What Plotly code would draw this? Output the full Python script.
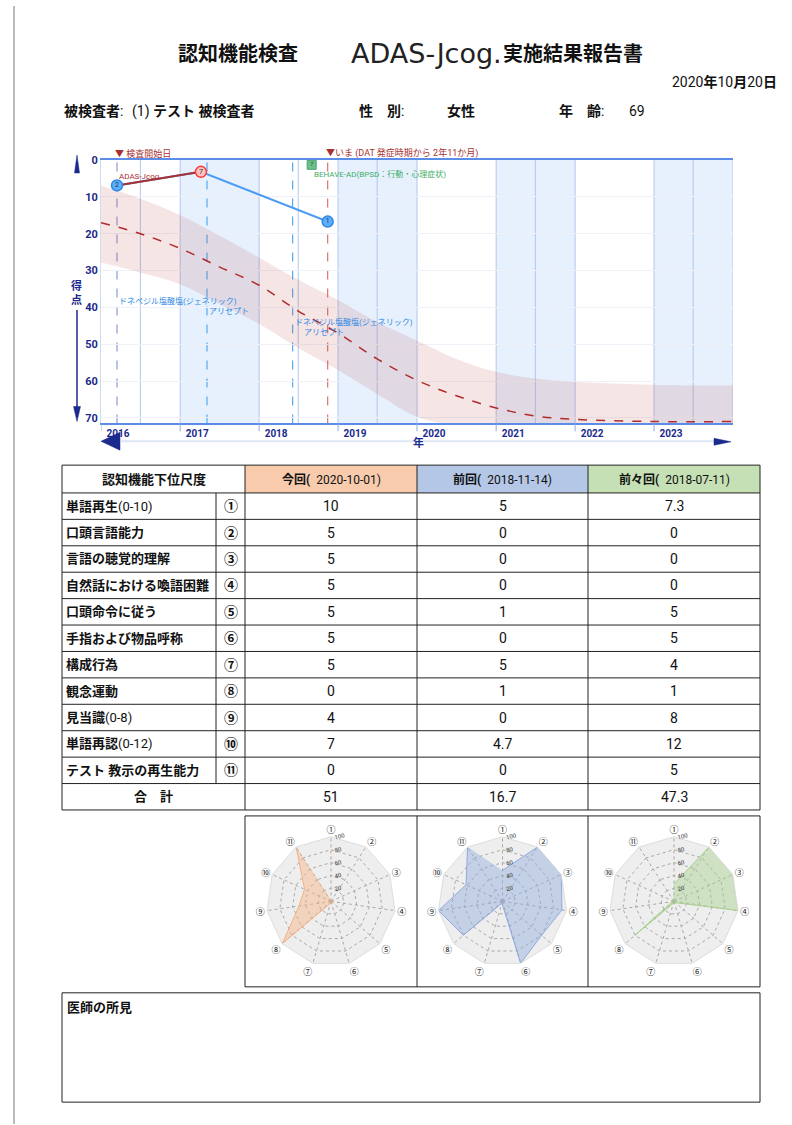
import plotly.graph_objects as go

W, H = 792, 1125


def px(x):
    return x / W


def py(y):
    return 1 - y / H


FONT = "Roboto, Noto Sans CJK JP"
NAVY = "#1b2a8c"

# ---------------- chart data ----------------
year_ticks = ["2016", "2017", "2018", "2019", "2020", "2021", "2022", "2023"]
year_lines = ["2017", "2018", "2019", "2020", "2021", "2022", "2023", "2024"]
shaded_years = ["2017", "2019", "2021", "2023"]
midyear_lines = ["2016-07-01", "2018-07-01", "2019-07-01", "2021-07-01", "2023-07-01"]
y_ticks = [0, 10, 20, 30, 40, 50, 60, 70]

trend_dates = ["2016-01-01", "2016-07-01", "2017-01-01", "2017-07-01", "2018-01-01",
               "2018-07-01", "2019-01-01", "2019-07-01", "2020-01-01", "2020-07-01",
               "2021-01-01", "2021-07-01", "2022-01-01", "2023-01-01", "2024-01-01"]
trend_mid = [17, 20, 24, 29, 34, 41, 47, 54, 59.8, 64, 67.3, 69.5, 70.4, 71, 71]
band_upper = [7, 10.5, 15, 20.5, 26.5, 32.5, 38, 44, 49, 54, 57.5, 59.3, 60.2, 61, 61.2]
band_lower = [27.8, 30.5, 33.7, 39, 44.5, 51, 57, 63.5, 69.7, 72, 72, 72, 72, 72, 72]

adas_dates = ["2016-03-15", "2017-04-07", "2018-11-14"]
adas_scores = [6.9, 3.2, 16.7]
adas_marks = ["2", "7", "1"]

behave_dates = ["2018-09-01"]
behave_scores = [1.3]
behave_marks = ["7"]

event_dates = ["2016-03-15", "2017-05-05", "2018-06-05", "2018-11-14"]
event_colors = ["#8d9bd3", "#55a8f0", "#55a8f0", "#e07070"]

drug_texts = ["ドネペジル塩酸塩(ジェネリック)", "アリセプト", "ドネペジル塩酸塩(ジェネリック)", "アリセプト"]
drug_dates = ["2016-03-15", "2017-05-05", "2018-06-05", "2018-07-20"]
drug_scores = [38.3, 41, 44, 46.7]

# ---------------- table data ----------------
scale_names = ["単語再生(0-10)", "口頭言語能力", "言語の聴覚的理解", "自然話における喚語困難",
               "口頭命令に従う", "手指および物品呼称", "構成行為", "観念運動",
               "見当識(0-8)", "単語再認(0-12)", "テスト 教示の再生能力"]
scale_nums = ["①", "②", "③", "④", "⑤", "⑥", "⑦", "⑧", "⑨", "⑩", "⑪"]
session_names = ["今回", "前回", "前々回"]
session_dates = ["2020-10-01", "2018-11-14", "2018-07-11"]
session_colors = ["#f8cbad", "#b4c7e7", "#c5e0b4"]
scores_this = [10, 5, 5, 5, 5, 5, 5, 0, 4, 7, 0]
scores_prev = [5, 0, 0, 0, 1, 0, 5, 1, 0, 4.7, 0]
scores_prev2 = [7.3, 0, 0, 0, 5, 5, 4, 1, 8, 12, 5]

radar_this = [3, 3, 3, 3, 3, 3, 3, 100, 50, 45, 100]
radar_prev = [48, 100, 100, 93, 80, 100, 3, 80, 100, 62, 100]
radar_prev2 = [27, 100, 100, 100, 3, 3, 3, 80, 3, 3, 3]
radar_fill = ["rgba(244,177,131,0.45)", "rgba(143,170,220,0.45)", "rgba(169,209,142,0.45)"]
radar_line = ["#f4b183", "#8faadc", "#a9d18e"]
radar_ticks = [20, 40, 60, 80, 100]

# ---------------- figure ----------------
fig = go.Figure()

fig.add_trace(go.Scatter(x=trend_dates, y=band_upper, mode="lines",
                         line=dict(width=0, shape="spline"), hoverinfo="skip"))
fig.add_trace(go.Scatter(x=trend_dates, y=band_lower, mode="lines",
                         line=dict(width=0, shape="spline"), fill="tonexty",
                         fillcolor="rgba(185,80,80,0.15)", hoverinfo="skip"))
fig.add_trace(go.Scatter(x=trend_dates, y=trend_mid, mode="lines",
                         line=dict(color="#b22b2b", width=1.5, dash="dash", shape="spline")))
fig.add_trace(go.Scatter(x=adas_dates, y=adas_scores, mode="lines",
                         line=dict(color="#4d9cf5", width=2)))
fig.add_trace(go.Scatter(x=adas_dates[:2], y=adas_scores[:2], mode="lines",
                         line=dict(color="#a83030", width=2)))
fig.add_trace(go.Scatter(x=adas_dates, y=adas_scores, mode="markers+text",
                         text=adas_marks, textposition="middle center",
                         textfont=dict(size=7, color="#333"),
                         marker=dict(size=11, color=["#5ab0ff", "#ffc2c2", "#5ab0ff"],
                                     line=dict(color=["#2f86e0", "#ff3b3b", "#2f86e0"], width=1.5))))
fig.add_trace(go.Scatter(x=behave_dates, y=behave_scores, mode="markers+text",
                         text=behave_marks, textposition="middle center",
                         textfont=dict(size=6, color="#1d5a33"),
                         marker=dict(size=9, symbol="square", color="#6cc08a",
                                     line=dict(color="#4aa36c", width=1))))

for i, (vals, fc, lc) in enumerate(zip([radar_this, radar_prev, radar_prev2], radar_fill, radar_line)):
    fig.add_trace(go.Scatterpolar(r=vals, theta=scale_nums, mode="lines", fill="toself",
                                  fillcolor=fc, line=dict(color=lc, width=1),
                                  subplot="polar" if i == 0 else f"polar{i + 1}"))

shapes = []
annotations = []


def line_px(x0, y0, x1, y1, color="#222", width=1, dash=None):
    shapes.append(dict(type="line", xref="paper", yref="paper", x0=px(x0), y0=py(y0),
                       x1=px(x1), y1=py(y1), line=dict(color=color, width=width, dash=dash)))


def rect_px(x0, y0, x1, y1, fill=None, color="#222", width=1):
    shapes.append(dict(type="rect", xref="paper", yref="paper", x0=px(x0), y0=py(y0),
                       x1=px(x1), y1=py(y1), fillcolor=fill,
                       line=dict(color=color, width=width), layer="below" if fill else "above"))


def path_px(points, fill):
    d = "M " + " L ".join(f"{px(x)},{py(y)}" for x, y in points) + " Z"
    shapes.append(dict(type="path", xref="paper", yref="paper", path=d,
                       fillcolor=fill, line=dict(color=fill, width=0.5)))


def note(x, y, text, size=12, color="#111", xanchor="left", family=FONT):
    annotations.append(dict(xref="paper", yref="paper", x=px(x), y=py(y), text=text,
                            showarrow=False, xanchor=xanchor, yanchor="middle",
                            font=dict(size=size, color=color, family=family)))


# page border
line_px(14, 0, 14, 1125, color="#777", width=1)

# shaded years and grid lines of the chart
for yr in shaded_years:
    shapes.append(dict(type="rect", xref="x", yref="y domain", x0=f"{yr}-01-01",
                       x1=f"{int(yr) + 1}-01-01", y0=0, y1=1, fillcolor="#e7f1fd",
                       line=dict(width=0), layer="below"))
for yr in year_lines:
    shapes.append(dict(type="line", xref="x", yref="y domain", x0=f"{yr}-01-01",
                       x1=f"{yr}-01-01", y0=0, y1=1, line=dict(color="#b3c5ec", width=1),
                       layer="below"))
for yr in year_ticks:
    shapes.append(dict(type="line", xref="x", yref="y domain", x0=f"{yr}-01-01",
                       x1=f"{yr}-01-01", y0=-0.03, y1=0, line=dict(color="#8fa8e3", width=1)))
for d in midyear_lines:
    shapes.append(dict(type="line", xref="x", yref="y domain", x0=d, x1=d, y0=0, y1=1,
                       line=dict(color="#b3c5ec", width=1), layer="below"))
for d, c in zip(event_dates, event_colors):
    shapes.append(dict(type="line", xref="x", yref="y domain", x0=d, x1=d, y0=0, y1=1,
                       line=dict(color=c, width=1.2, dash="dash"), layer="below"))

# chart annotations
annotations.append(dict(xref="x", yref="paper", x=event_dates[0], y=py(148), xshift=-4,
                        text="▼ 検査開始日", showarrow=False, xanchor="left", yanchor="middle",
                        font=dict(size=9, color="#a83030", family=FONT)))
annotations.append(dict(xref="x", yref="paper", x=event_dates[3], y=py(148), xshift=-4,
                        text="▼いま (DAT 発症時期から 2年11か月)", showarrow=False,
                        xanchor="left", yanchor="middle",
                        font=dict(size=9, color="#a83030", family=FONT)))
annotations.append(dict(xref="x", yref="y", x=adas_dates[0], y=4.4, text="ADAS-Jcog",
                        showarrow=False, xanchor="left", yanchor="middle",
                        font=dict(size=8, color="#a83030", family=FONT)))
annotations.append(dict(xref="x", yref="y", x=behave_dates[0], y=3.7,
                        text="BEHAVE-AD(BPSD：行動・心理症状)", showarrow=False,
                        xanchor="left", yanchor="middle",
                        font=dict(size=8, color="#3fae68", family=FONT)))
for t, d, s in zip(drug_texts, drug_dates, drug_scores):
    annotations.append(dict(xref="x", yref="y", x=d, y=s, text=t, showarrow=False,
                            xanchor="left", yanchor="middle",
                            font=dict(size=8, color="#2f8ae6", family=FONT)))

# axis decorations
path_px([(77, 150), (74.5, 168), (79.5, 168)], NAVY)
note(76, 289, "<b>得<br>点</b>", size=11, color=NAVY, xanchor="center")
line_px(77, 306, 77, 405, color=NAVY, width=1.5)
path_px([(73.5, 403), (80.5, 403), (77, 418)], NAVY)
path_px([(101, 438), (120, 429), (120, 447)], NAVY)
line_px(121, 438, 716, 438, color="#dfe7f5", width=2)
path_px([(714, 435), (731, 438.5), (714, 442)], NAVY)
note(418, 440, "<b>年</b>", size=11, color=NAVY, xanchor="center")

# header
note(238, 48, "<b>認知機能検査</b>", size=20, xanchor="center")
note(426, 48, "ADAS-Jcog.", size=27, xanchor="center", family="DejaVu Sans", color="#222")
note(573, 48, "<b>実施結果報告書</b>", size=20, xanchor="center")
note(779, 76, "2020<b>年</b>10<b>月</b>20<b>日</b>", size=14, xanchor="right")
note(62, 106, "<b>被検査者</b>:", size=14)
note(130, 106, "(1) <b>テスト 被検査者</b>", size=14)
note(357, 106, "<b>性　別</b>:", size=14)
note(445, 106, "<b>女性</b>", size=14)
note(557, 106, "<b>年　齢</b>:", size=14)
note(627, 106, "69", size=14)

# table
T_TOP, H_BOT, T_BOT = 462, 490, 809
XL, XN, XV, XR = 62, 216, 245, 760
col_edges = [245, 417, 588, 760]
row_h = (T_BOT - H_BOT) / (len(scale_names) + 1)
for i, c in enumerate(session_colors):
    rect_px(col_edges[i], T_TOP, col_edges[i + 1], H_BOT, fill=c, color=c, width=0)
line_px(XL, T_TOP, XR, T_TOP)
line_px(XL, H_BOT, XR, H_BOT)
for k in range(1, len(scale_names) + 2):
    yy = H_BOT + k * row_h
    line_px(XL, yy, XR, yy)
for xx in [XL] + col_edges:
    line_px(xx, T_TOP, xx, T_BOT)
line_px(XN, H_BOT, XN, H_BOT + len(scale_names) * row_h)

note((XL + XV) / 2, (T_TOP + H_BOT) / 2, "<b>認知機能下位尺度</b>", size=13, xanchor="center")
for i, (nm, dt) in enumerate(zip(session_names, session_dates)):
    note((col_edges[i] + col_edges[i + 1]) / 2, (T_TOP + H_BOT) / 2,
         f"<b>{nm}(</b>  {dt})", size=12, xanchor="center")

all_scores = [scores_this, scores_prev, scores_prev2]
for r, (nm, num) in enumerate(zip(scale_names, scale_nums)):
    yc = H_BOT + (r + 0.5) * row_h
    if "(" in nm:
        head, tail = nm.split("(", 1)
        label = f"<b>{head}</b>({tail}"
    else:
        label = f"<b>{nm}</b>"
    note(XL + 2, yc, label, size=13)
    note((XN + XV) / 2, yc, f"<b>{num}</b>", size=14, xanchor="center")
    for c, vals in enumerate(all_scores):
        note((col_edges[c] + col_edges[c + 1]) / 2, yc, f"{vals[r]:g}", size=14, xanchor="center")
yc = H_BOT + (len(scale_names) + 0.5) * row_h
note((XL + XV) / 2, yc, "<b>合　計</b>", size=13, xanchor="center")
for c, vals in enumerate(all_scores):
    note((col_edges[c] + col_edges[c + 1]) / 2, yc, f"{round(sum(vals), 1):g}", size=14,
         xanchor="center")

# radar box
R_TOP, R_BOT = 815, 987
rect_px(245, R_TOP, 760, R_BOT)
line_px(417, R_TOP, 417, R_BOT)
line_px(588, R_TOP, 588, R_BOT)

# doctor box
rect_px(62, 993, 760, 1103)
note(65, 1008, "<b>医師の所見</b>", size=13)

polar_layout = {}
rad = 65
for i in range(3):
    cx = (col_edges[i] + col_edges[i + 1]) / 2
    cy = (R_TOP + R_BOT) / 2
    key = "polar" if i == 0 else f"polar{i + 1}"
    polar_layout[key] = dict(
        domain=dict(x=[px(cx - rad), px(cx + rad)], y=[py(cy + rad), py(cy - rad)]),
        bgcolor="#eeeeee",
        gridshape="linear",
        angularaxis=dict(rotation=90, direction="clockwise", tickfont=dict(size=9, color="#222"),
                         gridcolor="#a8a8a8", griddash="dot", showline=True,
                         linecolor="#dddddd", ticks=""),
        radialaxis=dict(range=[0, 100], tickvals=radar_ticks, tickfont=dict(size=6, color="#333"),
                        angle=75, tickangle=75, gridcolor="#a8a8a8", griddash="dot",
                        showline=False, ticks=""),
    )

fig.update_layout(
    width=W, height=H, autosize=False, margin=dict(l=0, r=0, t=0, b=0),
    paper_bgcolor="white", plot_bgcolor="white", showlegend=False,
    font=dict(family=FONT, color="#111"),
    xaxis=dict(domain=[px(101), px(733)], type="date", range=["2016-01-01", "2024-01-01"],
               tickvals=[f"{y}-01-01" for y in year_ticks],
               ticktext=[f"<b>{y}</b>" for y in year_ticks],
               ticks="", ticklabelshift=17, tickfont=dict(size=10, color=NAVY),
               showgrid=False, showline=True, linecolor="#5b8ce8", linewidth=1.5,
               mirror=True, zeroline=False),
    yaxis=dict(domain=[py(420), py(155)], range=[71.5, 0], tickvals=y_ticks,
               ticktext=[f"<b>{v}</b>" for v in y_ticks], tickfont=dict(size=11, color=NAVY),
               showgrid=True, gridcolor="#eef1f8", zeroline=False, showline=True,
               linecolor="#d0dbf2", ticks=""),
    shapes=shapes,
    annotations=annotations,
    **polar_layout,
)

fig.write_html("out.html", config={"displayModeBar": False},
               post_script="document.body.style.margin='0';document.body.style.overflow='hidden';")
